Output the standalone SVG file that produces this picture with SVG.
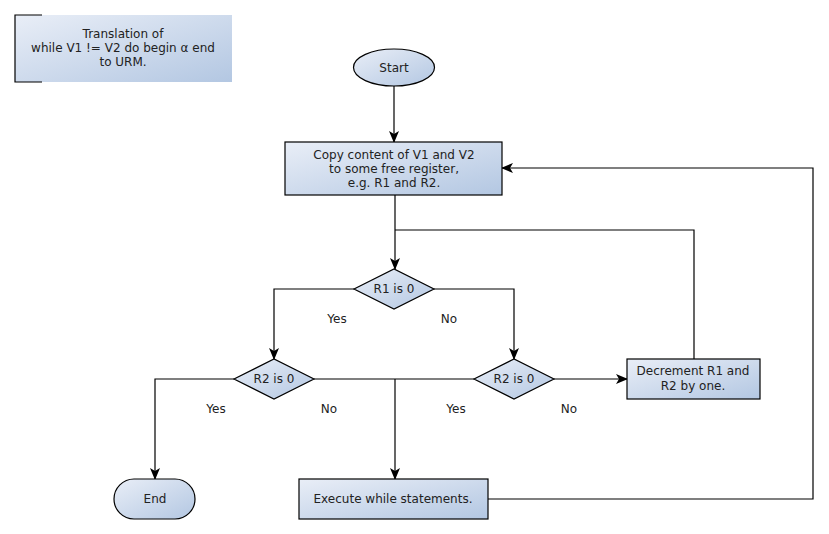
<svg xmlns="http://www.w3.org/2000/svg" width="829" height="534" viewBox="0 0 829 534">
<defs>
<linearGradient id="g" x1="0" y1="0" x2="1" y2="1">
<stop offset="0" stop-color="#e9eef7"/>
<stop offset="1" stop-color="#b3c7e2"/>
</linearGradient>
<marker id="arr" viewBox="0 0 12 10" refX="11" refY="5" markerWidth="12" markerHeight="10" markerUnits="userSpaceOnUse" orient="auto">
<path d="M0,0 L12,5 L0,10 L3,5 Z" fill="#000"/>
</marker>
<style>
.n{fill:url(#g);stroke:#000;stroke-width:1.2}
.t{font-family:"DejaVu Sans",sans-serif;font-size:12px;fill:#222;text-anchor:middle}
.c{fill:none;stroke:#000;stroke-width:1.2}
</style>
</defs>
<rect width="829" height="534" fill="#fff"/>
<g id="note">
<rect x="15" y="15" width="217" height="67" fill="url(#g)"/>
<path class="c" d="M42,15 H15 V82 H42"/>
<text class="t" x="123" y="38">Translation of</text>
<text class="t" x="123" y="52">while V1 != V2 do begin α end</text>
<text class="t" x="123" y="66">to URM.</text>
</g>
<g id="connectors">
<path class="c" d="M394,86 V142" marker-end="url(#arr)"/>
<path class="c" d="M395,195 V269" marker-end="url(#arr)"/>
<path class="c" d="M354,289 H274 V359" marker-end="url(#arr)"/>
<path class="c" d="M434,289 H514 V359" marker-end="url(#arr)"/>
<path class="c" d="M234,379 H155 V479" marker-end="url(#arr)"/>
<path class="c" d="M314,379 H474"/>
<path class="c" d="M395,379 V479" marker-end="url(#arr)"/>
<path class="c" d="M554,379 H627" marker-end="url(#arr)"/>
<path class="c" d="M694,359 V230 H395"/>
<path class="c" d="M488,499 H813 V168 H502" marker-end="url(#arr)"/>
<text class="t" x="337" y="323">Yes</text>
<text class="t" x="449" y="323">No</text>
<text class="t" x="216" y="413">Yes</text>
<text class="t" x="329" y="413">No</text>
<text class="t" x="456" y="413">Yes</text>
<text class="t" x="569" y="413">No</text>
</g>
<g id="start">
<ellipse class="n" cx="394" cy="67.5" rx="40.5" ry="18.5"/>
<text class="t" x="394" y="72">Start</text>
</g>
<g id="copy">
<rect class="n" x="285" y="142" width="217" height="53"/>
<text class="t" x="394" y="159">Copy content of V1 and V2</text>
<text class="t" x="394" y="173">to some free register,</text>
<text class="t" x="394" y="187">e.g. R1 and R2.</text>
</g>
<g id="r1zero">
<path class="n" d="M354,289 L394,269 L434,289 L394,309 Z"/>
<text class="t" x="394" y="293">R1 is 0</text>
</g>
<g id="r2zeroLeft">
<path class="n" d="M234,379 L274,359 L314,379 L274,399 Z"/>
<text class="t" x="274" y="383">R2 is 0</text>
</g>
<g id="r2zeroRight">
<path class="n" d="M474,379 L514,359 L554,379 L514,399 Z"/>
<text class="t" x="514" y="383">R2 is 0</text>
</g>
<g id="decrement">
<rect class="n" x="627" y="359" width="133" height="40"/>
<text class="t" x="693" y="375">Decrement R1 and</text>
<text class="t" x="693" y="390">R2 by one.</text>
</g>
<g id="end">
<rect class="n" x="114" y="479" width="81" height="40" rx="20" ry="20"/>
<text class="t" x="155" y="503">End</text>
</g>
<g id="execute">
<rect class="n" x="299" y="479" width="189" height="40"/>
<text class="t" x="393" y="503">Execute while statements.</text>
</g>
</svg>
